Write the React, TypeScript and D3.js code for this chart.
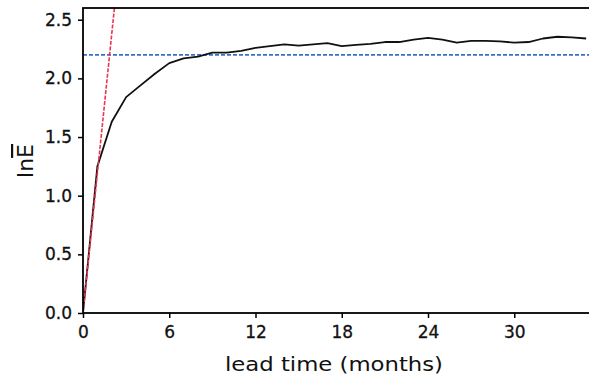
import { useRef, useEffect } from 'react';
import * as d3 from 'd3';

// lead time in months and ln(mean error growth)
const months = d3.range(0, 36);
const lnE = [
  0, 1.25, 1.63, 1.84, 1.94, 2.04, 2.13, 2.17, 2.185, 2.22, 2.22, 2.235,
  2.26, 2.275, 2.29, 2.28, 2.29, 2.3, 2.275, 2.285, 2.295, 2.31, 2.31, 2.33,
  2.345, 2.33, 2.305, 2.32, 2.32, 2.315, 2.305, 2.31, 2.34, 2.355, 2.35, 2.34,
];
const xTicks = [0, 6, 12, 18, 24, 30];
const yTicks = [0, 0.5, 1.0, 1.5, 2.0, 2.5];
const growthRate = 1.19; // initial slope (red)
const saturation = 2.2; // saturation level (blue)

const W = 589;
const H = 379;

export default function App() {
  const svgRef = useRef<SVGSVGElement>(null);

  useEffect(() => {
    if (!svgRef.current) return;
    const svg = d3.select(svgRef.current);
    svg.selectAll('*').remove();

    const x = d3.scaleLinear().domain([0, 35.2]).range([83, 589]);
    const y = d3.scaleLinear().domain([0, 2.6]).range([313, 8]);

    svg.append('defs')
      .append('clipPath')
      .attr('id', 'plot-clip')
      .append('rect')
      .attr('x', x(0))
      .attr('y', y(2.6))
      .attr('width', x(35.2) - x(0) + 10)
      .attr('height', y(0) - y(2.6));

    const plot = svg.append('g').attr('clip-path', 'url(#plot-clip)');

    // saturation level
    plot.append('line')
      .attr('x1', x(0))
      .attr('x2', x(35.2) + 10)
      .attr('y1', y(saturation))
      .attr('y2', y(saturation))
      .attr('stroke', '#3d6fc6')
      .attr('stroke-width', 1.6)
      .attr('stroke-dasharray', '4,2');

    const line = d3.line<number>()
      .x((_, i) => x(months[i]))
      .y((d) => y(d));

    plot.append('path')
      .datum(lnE)
      .attr('d', line)
      .attr('fill', 'none')
      .attr('stroke', '#111')
      .attr('stroke-width', 1.8)
      .attr('stroke-linejoin', 'round');

    // initial exponential growth
    const redEnd = 2.7 / growthRate;
    plot.append('line')
      .attr('x1', x(0))
      .attr('y1', y(0))
      .attr('x2', x(redEnd))
      .attr('y2', y(growthRate * redEnd))
      .attr('stroke', '#ec3550')
      .attr('stroke-width', 1.6)
      .attr('stroke-dasharray', '4,1.5');

    // frame (right side falls off the picture)
    svg.append('rect')
      .attr('x', x(0))
      .attr('y', y(2.6))
      .attr('width', x(35.2) - x(0) + 10)
      .attr('height', y(0) - y(2.6))
      .attr('fill', 'none')
      .attr('stroke', '#000')
      .attr('stroke-width', 1.8);

    const yAxis = svg.append('g')
      .attr('transform', `translate(${x(0)},0)`)
      .call(d3.axisLeft(y).tickValues(yTicks).tickFormat(d3.format('.1f')).tickSize(5).tickSizeOuter(0).tickPadding(6));
    yAxis.select('.domain').remove();
    yAxis.selectAll('line').attr('stroke', '#000').attr('stroke-width', 1.5);
    yAxis.selectAll('text')
      .attr('font-family', 'DejaVu Sans, sans-serif')
      .attr('font-size', 17)
      .attr('fill', '#111')
      .attr('stroke', '#111')
      .attr('stroke-width', 0.3);

    const xAxis = svg.append('g')
      .attr('transform', `translate(0,${y(0)})`)
      .call(d3.axisBottom(x).tickValues(xTicks).tickSize(5).tickSizeOuter(0).tickPadding(8));
    xAxis.select('.domain').remove();
    xAxis.selectAll('line').attr('stroke', '#000').attr('stroke-width', 1.5);
    xAxis.selectAll('text')
      .attr('font-family', 'DejaVu Sans, sans-serif')
      .attr('font-size', 17)
      .attr('fill', '#111')
      .attr('stroke', '#111')
      .attr('stroke-width', 0.3);

    svg.append('text')
      .attr('x', 334)
      .attr('y', 371)
      .attr('text-anchor', 'middle')
      .attr('font-family', 'DejaVu Sans, sans-serif')
      .attr('font-size', 20)
      .attr('fill', '#111')
      .attr('textLength', 218)
      .attr('lengthAdjust', 'spacingAndGlyphs')
      .text('lead time (months)');

    const yl = svg.append('text')
      .attr('transform', 'translate(33,161) rotate(-90)')
      .attr('text-anchor', 'middle')
      .attr('font-family', 'DejaVu Sans, sans-serif')
      .attr('font-size', 22)
      .attr('fill', '#111');
    yl.append('tspan').text('ln');
    yl.append('tspan').attr('text-decoration', 'overline').text('E');
  }, []);

  return (
    <svg
      ref={svgRef}
      width={W}
      height={H}
      viewBox={`0 0 ${W} ${H}`}
      style={{ position: 'fixed', left: 0, top: 0, background: '#fff' }}
    />
  );
}
